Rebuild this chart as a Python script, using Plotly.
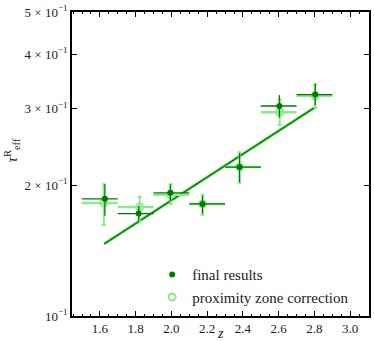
import plotly.graph_objects as go

# redshift bins
z = [1.628, 1.817, 1.994, 2.174, 2.381, 2.604, 2.804]
z_lo = [1.5, 1.7, 1.9, 2.1, 2.3, 2.5, 2.7]
z_hi = [1.7, 1.9, 2.1, 2.3, 2.5, 2.7, 2.9]

# final results
tau_final = [0.186, 0.172, 0.192, 0.181, 0.220, 0.304, 0.323]
tau_final_up = [0.015, 0.007, 0.0085, 0.008, 0.017, 0.018, 0.019]
tau_final_dn = [0.016, 0.007, 0.0083, 0.009, 0.017, 0.018, 0.018]

# proximity zone correction
z_prox = [1.622, 1.822, 1.996, 2.174, 2.381, 2.606, 2.804]
tau_prox = [0.182, 0.178, 0.190, 0.181, 0.220, 0.294, 0.321]
tau_prox_up = [0.019, 0.010, 0.011, 0.009, 0.018, 0.020, 0.020]
tau_prox_dn = [0.020, 0.0125, 0.009, 0.010, 0.018, 0.019, 0.019]

# fitted power law (read at the ends)
z_fit = [1.624, 2.807]
tau_fit = [0.1465, 0.3026]

dark = "#007a00"
light = "#8fe88f"
FONT = "Liberation Serif"

def xerr(zc):
    return dict(type="data", symmetric=False,
                array=[h - c for h, c in zip(z_hi, zc)],
                arrayminus=[c - l for l, c in zip(z_lo, zc)])

fig = go.Figure()
fig.add_trace(go.Scatter(x=z_fit, y=tau_fit, mode="lines", line=dict(color=light, width=3.5),
                         showlegend=False, hoverinfo="skip"))
fig.add_trace(go.Scatter(x=z_fit, y=tau_fit, mode="lines", line=dict(color=dark, width=1.3),
                         showlegend=False, hoverinfo="skip"))

fig.add_trace(go.Scatter(
    x=z_prox, y=tau_prox, mode="markers", name="proximity zone correction",
    marker=dict(symbol="circle-open", size=7, color=light, line=dict(width=2, color=light)),
    error_x=dict(xerr(z_prox), color=light, thickness=2.5, width=0),
    error_y=dict(type="data", symmetric=False, array=tau_prox_up, arrayminus=tau_prox_dn,
                 color=light, thickness=2, width=2),
))
fig.add_trace(go.Scatter(
    x=z, y=tau_final, mode="markers", name="final results",
    marker=dict(symbol="circle", size=6, color=dark),
    error_x=dict(xerr(z), color=dark, thickness=1.3, width=0),
    error_y=dict(type="data", symmetric=False, array=tau_final_up, arrayminus=tau_final_dn,
                 color=dark, thickness=1.3, width=0),
))

yticks = [0.1, 0.2, 0.3, 0.4, 0.5]
ytext = ["10<sup>−1</sup>", "2 × 10<sup>−1</sup>", "3 × 10<sup>−1</sup>",
         "4 × 10<sup>−1</sup>", "5 × 10<sup>−1</sup>"]

fig.update_layout(
    width=374, height=341,
    margin=dict(l=72, r=3, t=9, b=25),
    plot_bgcolor="white", paper_bgcolor="white",
    font=dict(family=FONT, size=13, color="#222"),
    legend=dict(x=0.27, y=0.19, xanchor="left", yanchor="top", traceorder="reversed",
                bgcolor="rgba(0,0,0,0)", font=dict(family=FONT, size=15), tracegroupgap=0),
    xaxis=dict(range=[1.444, 3.105], tickvals=[1.6, 1.8, 2.0, 2.2, 2.4, 2.6, 2.8, 3.0],
               ticktext=["1.6", "1.8", "2.0", "2.2", "2.4", "2.6", "2.8", "3.0"],
               tickfont=dict(family=FONT, size=13),
               ticks="inside", ticklen=5, tickcolor="black", showgrid=False, zeroline=False,
               showline=True, linecolor="black", linewidth=1.5, mirror="ticks",
               minor=dict(dtick=0.05, tick0=1.6, ticks="inside", ticklen=2.5, tickcolor="black")),
    yaxis=dict(type="log", range=[-1, -0.30103], tickvals=yticks, ticktext=ytext,
               tickfont=dict(family=FONT, size=13),
               ticks="inside", ticklen=5, tickcolor="black", showgrid=False, zeroline=False,
               showline=True, linecolor="black", linewidth=1.5, mirror="ticks"),
)

fig.add_annotation(text="<i>z</i>", x=0.5, y=-0.058, xref="paper", yref="paper",
                   showarrow=False, font=dict(family=FONT, size=14), yanchor="middle")
fig.add_annotation(text="<i>τ</i><sup>R</sup><sub>eff</sub>", x=-0.244, y=0.543, xref="paper", yref="paper",
                   showarrow=False, textangle=-90, font=dict(family=FONT, size=15))

# drop the browser's default page margin so the figure sits at the window corner
fig.write_html("out.html", config={"displayModeBar": False},
               post_script="document.body.style.margin='0';")
